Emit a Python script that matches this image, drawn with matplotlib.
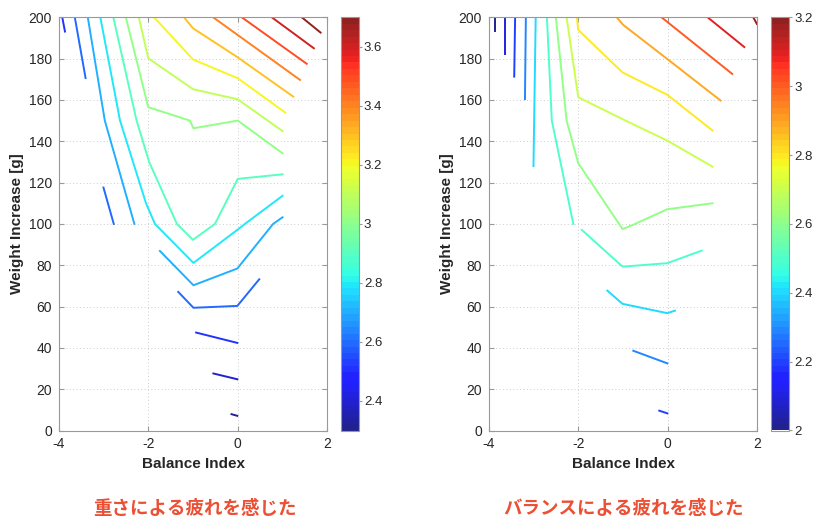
import numpy as np
import matplotlib.pyplot as plt
from matplotlib import cm, colors

plt.rcParams['font.family'] = ['Liberation Sans', 'DejaVu Sans']
plt.rcParams['axes.unicode_minus'] = False

# ------------------------------------------------------------
# Contour lines (level, x points, y points)
# ------------------------------------------------------------
left_levels = [2.3, 2.4, 2.5, 2.5, 2.6, 2.6, 2.6, 2.7, 2.7, 2.8, 2.9,
               3.0, 3.1, 3.2, 3.3, 3.4, 3.5, 3.6, 3.7]
left_x = [
    [-0.14, -0.01],
    [-0.545, -0.01],
    [-0.93, -0.01],
    [-3.92, -3.86],
    [-3.64, -3.40],
    [-3.00, -2.77],
    [-1.33, -0.99, -0.01, 0.48],
    [-3.35, -2.97, -2.31],
    [-1.74, -0.99, -0.01, 0.79, 1.0],
    [-3.07, -2.63, -2.05, -1.85, -0.99, -0.01, 0.16, 1.0],
    [-2.78, -2.26, -1.98, -1.36, -1.0, -0.51, 0.0, 1.0],
    [-2.50, -2.0, -1.07, -0.99, 0.0, 1.0],
    [-2.21, -2.0, -1.0, 0.0, 1.0],
    [-1.87, -1.0, 0.0, 1.06],
    [-1.20, -1.0, 0.0, 1.24],
    [-0.55, 1.39],
    [0.09, 1.54],
    [0.76, 1.70],
    [1.43, 1.85],
]
left_y = [
    [7.9, 7.1],
    [27.6, 24.8],
    [47.4, 42.4],
    [200, 193.1],
    [200, 170.6],
    [117.6, 100],
    [67.1, 59.4, 60.3, 73.2],
    [200, 150, 100],
    [86.9, 70.3, 78.4, 100, 103.2],
    [200, 150, 110, 100, 81.1, 97.1, 100, 113.6],
    [200, 150, 130, 100, 92.3, 100, 121.8, 124],
    [200, 156.5, 150, 146.3, 150, 134.2],
    [200, 180.2, 165.2, 160.3, 144.9],
    [200, 179.6, 170.5, 153.9],
    [200, 194.7, 180.6, 161.6],
    [200, 169.7],
    [200, 177.5],
    [200, 185],
    [200, 192.6],
]

right_levels = [2.0, 2.1, 2.2, 2.2, 2.3, 2.3, 2.4, 2.4, 2.5, 2.5,
                2.6, 2.7, 2.8, 2.9, 3.0, 3.1, 3.2]
right_x = [
    [-3.86, -3.86],
    [-3.64, -3.64],
    [-3.41, -3.43],
    [-0.19, -0.01],
    [-3.17, -3.19],
    [-0.77, -0.01],
    [-2.95, -3.0],
    [-1.35, -1.01, -0.01, 0.16],
    [-2.70, -2.59, -2.11],
    [-1.92, -1.01, -0.01, 0.76],
    [-2.50, -2.26, -2.0, -1.01, -0.77, -0.01, 1.0],
    [-2.26, -2.0, -1.01, -0.01, 1.0],
    [-2.03, -2.0, -1.01, -0.01, 1.0],
    [-1.14, -1.0, -0.01, 1.18],
    [-0.14, 1.44],
    [0.89, 1.71],
    [1.91, 1.99],
]
right_y = [
    [200, 193.6],
    [200, 182.3],
    [200, 171.3],
    [9.6, 8.3],
    [200, 160.4],
    [38.6, 32.5],
    [200, 128],
    [67.7, 61.3, 56.8, 58],
    [200, 150, 100],
    [97.1, 79.3, 81, 87.1],
    [200, 150, 129.4, 97.5, 99.6, 107.1, 110],
    [200, 161.3, 150.7, 140.3, 127.7],
    [200, 193.9, 173.3, 162.5, 145.2],
    [200, 196.4, 179.8, 159.7],
    [200, 172.6],
    [200, 185.6],
    [200, 196.8],
]

left_clim = (2.3, 3.7)
right_clim = (2.0, 3.2)
left_cticks = [2.4, 2.6, 2.8, 3.0, 3.2, 3.4, 3.6]
right_cticks = [2.0, 2.2, 2.4, 2.6, 2.8, 3.0, 3.2]
captions = ['重さによる疲れを感じた', 'バランスによる疲れを感じた']

# ------------------------------------------------------------
# Figure layout (pixel boxes of the original)
# ------------------------------------------------------------
W, H = 813, 517
fig = plt.figure(figsize=(W / 100, H / 100), dpi=100)


def rect(x0, y0, x1, y1):
    return [x0 / W, 1 - y1 / H, (x1 - x0) / W, (y1 - y0) / H]


ax_l = fig.add_axes(rect(58.7, 17.3, 327.3, 430.5))
cax_l = fig.add_axes(rect(340.7, 17.3, 359, 430.5))
ax_r = fig.add_axes(rect(488.7, 17.3, 757.3, 430.5))
cax_r = fig.add_axes(rect(770.7, 17.3, 789.3, 430.5))

# jet with 64 steps, a touch lighter like the original render
base = plt.get_cmap('jet', 64)(np.linspace(0, 1, 64))
base[:, :3] = base[:, :3] * 0.87 + 0.13
cmap = colors.ListedColormap(base)
axis_col = '0.6'
text_col = '0.15'


def draw(ax, cax, levels, xs, ys, clim, cticks):
    norm = colors.Normalize(*clim)
    for lv, x, y in zip(levels, xs, ys):
        ax.plot(x, y, color=cmap(norm(lv)), lw=1.4)
    ax.set_xlim(-4, 2)
    ax.set_ylim(0, 200)
    ax.set_xticks([-4, -2, 0, 2])
    ax.set_yticks(range(0, 201, 20))
    ax.grid(True, ls=(0, (1, 2.5)), color='0.8', lw=0.7)
    ax.tick_params(direction='in', top=True, right=True, length=3.5,
                   color=axis_col, labelsize=10, labelcolor=text_col, pad=5)
    for s in ax.spines.values():
        s.set_color(axis_col)
    ax.set_xlabel('Balance Index', fontweight='bold', fontsize=11,
                  color=text_col, labelpad=4)
    ax.set_ylabel('Weight Increase [g]', fontweight='bold', fontsize=11,
                  color=text_col, labelpad=3)

    sm = cm.ScalarMappable(norm=norm, cmap=cmap)
    cb = fig.colorbar(sm, cax=cax, ticks=cticks)
    cb.ax.set_yticklabels(['%g' % t for t in cticks])
    cb.outline.set_edgecolor(axis_col)
    cax.tick_params(direction='out', length=2, color=axis_col,
                    labelsize=9.5, labelcolor=text_col, pad=1.5)


draw(ax_l, cax_l, left_levels, left_x, left_y, left_clim, left_cticks)
draw(ax_r, cax_r, right_levels, right_x, right_y, right_clim, right_cticks)

for xc, txt in zip([195, 624], captions):
    fig.text(xc / W, 1 - 508 / H, txt, ha='center', va='center',
             fontsize=13.3, fontweight='bold', color='#ec5034',
             family=['Noto Sans CJK JP', 'DejaVu Sans'])

fig.savefig('out.png', dpi=100)
